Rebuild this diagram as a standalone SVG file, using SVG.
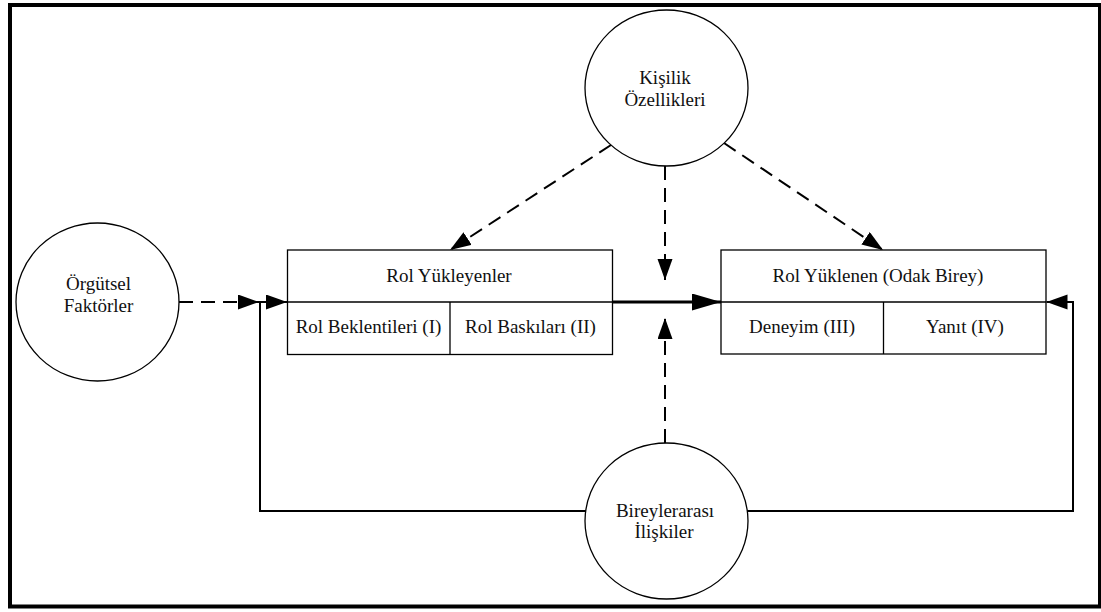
<svg xmlns="http://www.w3.org/2000/svg" width="1101" height="612" viewBox="0 0 1101 612">
  <style>
    .frame { fill: none; stroke: #000; stroke-width: 4; }
    .node { fill: #fff; stroke: #000; stroke-width: 1.3; }
    .label { font-family: 'Liberation Serif', 'DejaVu Serif', serif; font-size: 19px; fill: #111; text-anchor: middle; }
    .dash { fill: none; stroke: #000; stroke-width: 2; stroke-dasharray: 14 8; }
    .solid { fill: none; stroke: #000; stroke-width: 2; }
    .thick { fill: none; stroke: #000; stroke-width: 3.2; }
  </style>
  <defs>
    <marker id="arrow" markerUnits="userSpaceOnUse" markerWidth="22" markerHeight="16" refX="21" refY="7.5" orient="auto">
      <path d="M0,0 L21,7.5 L0,15 z" fill="#000"/>
    </marker>
    <marker id="arrowBig" markerUnits="userSpaceOnUse" markerWidth="30" markerHeight="18" refX="29" refY="8.5" orient="auto">
      <path d="M0,0 L29,8.5 L0,17 z" fill="#000"/>
    </marker>
  </defs>

  <rect x="0" y="0" width="1101" height="612" fill="#fff"/>
  <rect class="frame" x="10" y="5" width="1090" height="601.5"/>

  <!-- connectors -->
  <g id="connectors">
    <line class="dash" x1="179" y1="302" x2="259" y2="302" marker-end="url(#arrow)"/>
    <polyline class="solid" points="586,511 260,511 260,302 287,302" marker-end="url(#arrow)"/>
    <polyline class="solid" points="747,511 1073,511 1073,302 1046.5,302" marker-end="url(#arrow)"/>
    <line class="thick" x1="612" y1="302" x2="721" y2="302" marker-end="url(#arrowBig)"/>
    <line class="dash" x1="611" y1="145" x2="450" y2="250" marker-end="url(#arrow)"/>
    <line class="dash" x1="724" y1="143" x2="883" y2="250" marker-end="url(#arrow)"/>
    <line class="dash" x1="665" y1="166" x2="665" y2="280" marker-end="url(#arrow)"/>
    <line class="dash" x1="665" y1="443" x2="665" y2="318" marker-end="url(#arrow)"/>
  </g>

  <!-- personality traits -->
  <g id="kisilik">
    <ellipse class="node" cx="666.5" cy="88" rx="81.5" ry="78"/>
    <text class="label" x="665" y="84">Kişilik</text>
    <text class="label" x="665" y="106">Özellikleri</text>
  </g>

  <!-- organisational factors -->
  <g id="orgutsel">
    <ellipse class="node" cx="97.5" cy="302" rx="81.5" ry="79"/>
    <text class="label" x="98.5" y="290">Örgütsel</text>
    <text class="label" x="98.5" y="312">Faktörler</text>
  </g>

  <!-- interpersonal relations -->
  <g id="bireylerarasi">
    <ellipse class="node" cx="666.5" cy="521" rx="81.5" ry="78"/>
    <text class="label" x="665" y="517">Bireylerarası</text>
    <text class="label" x="664" y="538">İlişkiler</text>
  </g>

  <!-- role senders -->
  <g id="rol-yukleyenler">
    <rect class="node" x="287.5" y="250" width="325" height="104.5"/>
    <line class="node" x1="287.5" y1="302" x2="612.5" y2="302"/>
    <line class="node" x1="450" y1="302" x2="450" y2="354.5"/>
    <text class="label" x="449" y="282">Rol Yükleyenler</text>
    <text class="label" x="368.5" y="333">Rol Beklentileri (I)</text>
    <text class="label" x="530.5" y="333">Rol Baskıları (II)</text>
  </g>

  <!-- focal person -->
  <g id="rol-yuklenen">
    <rect class="node" x="721" y="250" width="325" height="104"/>
    <line class="node" x1="721" y1="302" x2="1046" y2="302"/>
    <line class="node" x1="883.5" y1="302" x2="883.5" y2="354"/>
    <text class="label" x="878" y="282">Rol Yüklenen (Odak Birey)</text>
    <text class="label" x="802" y="333">Deneyim (III)</text>
    <text class="label" x="965" y="333">Yanıt (IV)</text>
  </g>
</svg>
